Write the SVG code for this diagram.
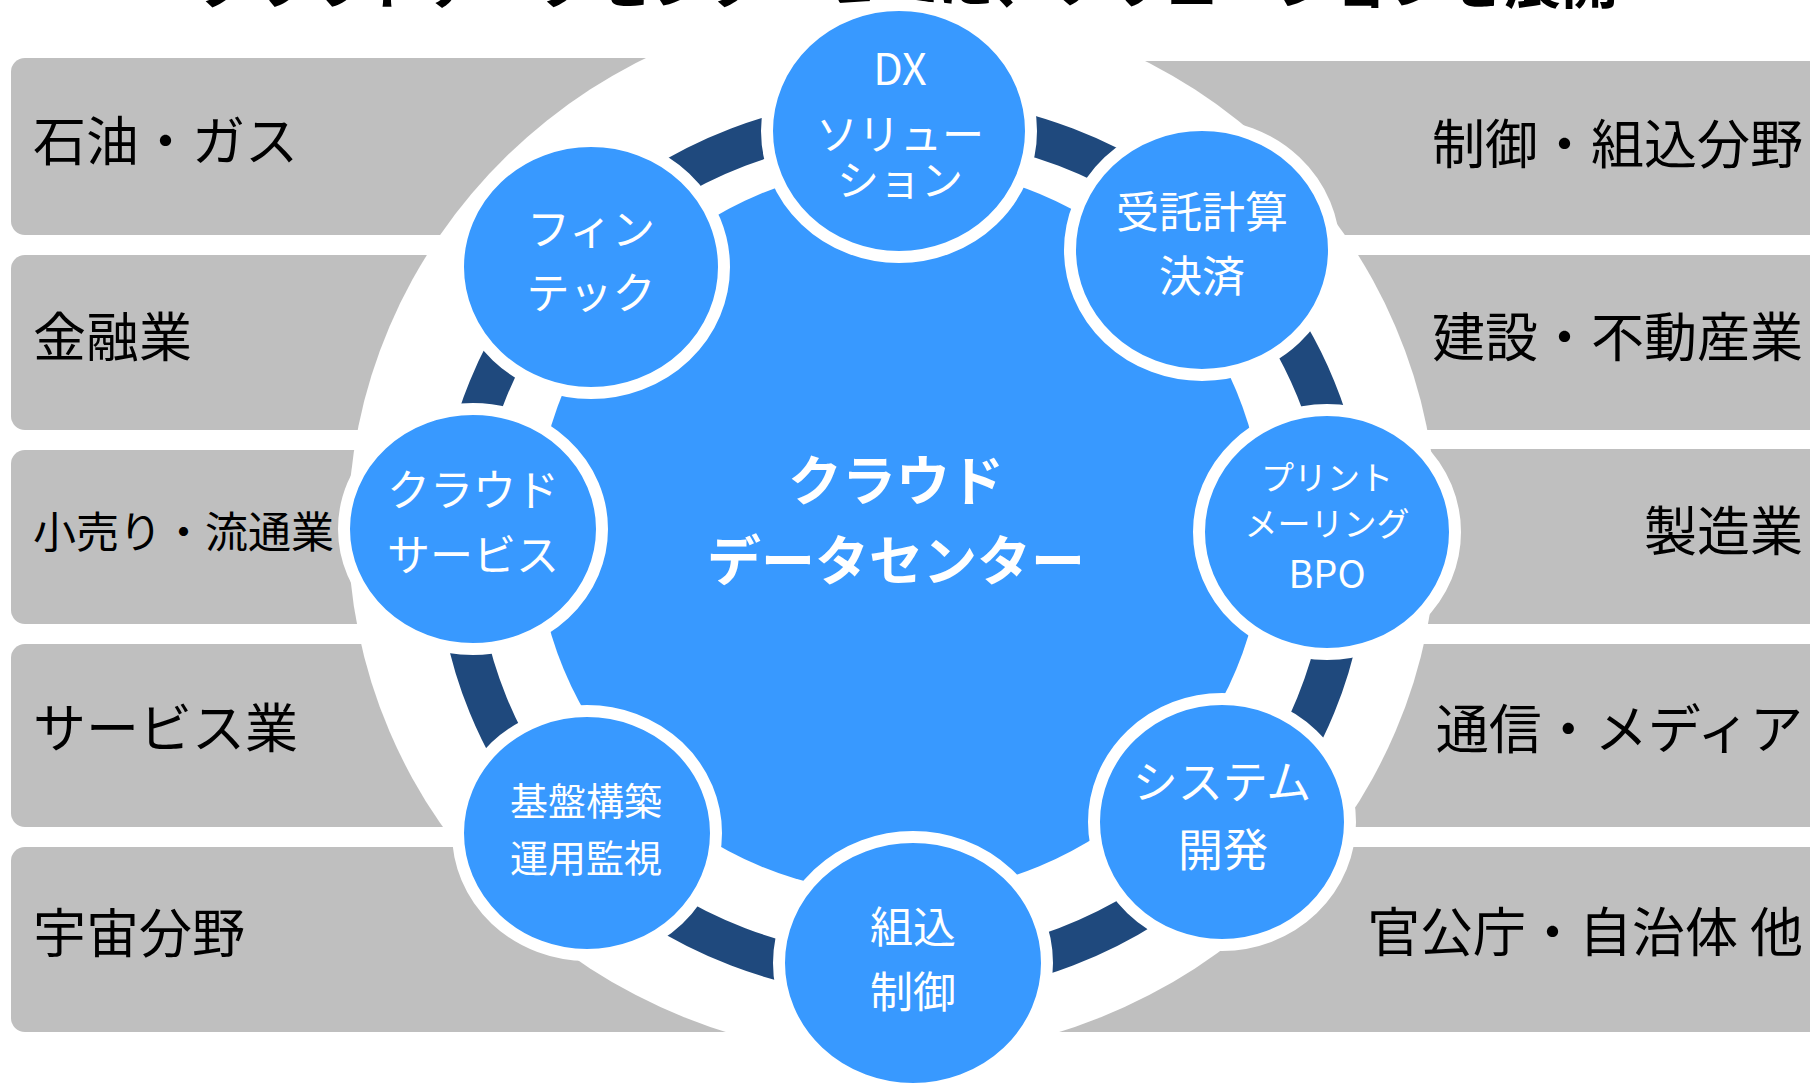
<svg xmlns="http://www.w3.org/2000/svg" width="1810" height="1087" viewBox="0 0 1810 1087">
<style>
.box{fill:#BFBFBF}
.lbl{font-family:"Noto Sans CJK JP","Noto Sans",sans-serif;fill:#000;font-size:53px}
.lbl.sm{font-size:43px}
.lr{text-anchor:end}
.node{fill:#3899FF;stroke:#FFFFFF;stroke-width:12}
.nt{font-family:"Noto Sans CJK JP","Noto Sans",sans-serif;fill:#FFFFFF;text-anchor:middle}
</style>
<rect width="1810" height="1087" fill="#FFFFFF"/>
<g id="title">
<text x="196" y="3" font-family="'Noto Sans CJK JP','Noto Sans',sans-serif" font-size="57" font-weight="bold" fill="#000">クラウドデータセンターを軸に、ソリューションを展開</text>
</g>
<g id="industries-left">
<rect class="box" x="11" y="58" width="900" height="177" rx="14"/>
<rect class="box" x="11" y="255" width="900" height="175" rx="14"/>
<rect class="box" x="11" y="450" width="900" height="174" rx="14"/>
<rect class="box" x="11" y="644" width="900" height="183" rx="14"/>
<rect class="box" x="11" y="847" width="900" height="185" rx="14"/>
</g>
<g id="industries-right">
<rect class="box" x="900" y="61" width="1000" height="174" rx="14"/>
<rect class="box" x="900" y="255" width="1000" height="175" rx="14"/>
<rect class="box" x="900" y="449" width="1000" height="175" rx="14"/>
<rect class="box" x="900" y="644" width="1000" height="183" rx="14"/>
<rect class="box" x="900" y="847" width="1000" height="185" rx="14"/>
</g>
<ellipse id="backdrop" cx="892.5" cy="529" rx="544.5" ry="528.5" fill="#FFFFFF"/>
<g id="labels-left">
<text class="lbl" x="33" y="160.5">石油・ガス</text>
<text class="lbl" x="33" y="356.5">金融業</text>
<text class="lbl sm" x="33" y="548">小売り・流通業</text>
<text class="lbl" x="33" y="748">サービス業</text>
<text class="lbl" x="33" y="953">宇宙分野</text>
</g>
<g id="labels-right">
<text class="lbl lr" x="1803" y="163.5">制御・組込分野</text>
<text class="lbl lr" x="1803" y="356.5">建設・不動産業</text>
<text class="lbl lr" x="1803" y="550.5">製造業</text>
<text class="lbl lr" x="1803" y="749">通信・メディア</text>
<text class="lbl lr" x="1803" y="952">官公庁・自治体 他</text>
</g>
<g id="connectors">
<ellipse cx="902" cy="547" rx="445" ry="430" fill="none" stroke="#1F497D" stroke-width="40"/>
</g>
<g id="center">
<circle cx="900" cy="530" r="364" fill="#3899FF"/>
<text class="nt" x="896" y="501" font-size="54" font-weight="bold">クラウド</text>
<text class="nt" x="896" y="581" font-size="54" font-weight="bold">データセンター</text>
</g>
<g id="node-dx">
<ellipse class="node" cx="899" cy="131" rx="132" ry="126"/>
<text class="nt" x="900" y="85" font-size="43">DX</text>
<text class="nt" x="900" y="149.5" font-size="42">ソリュー</text>
<text class="nt" x="900" y="196" font-size="42">ション</text>
</g>
<g id="node-kessai">
<ellipse class="node" cx="1202" cy="250" rx="132" ry="125"/>
<text class="nt" x="1202" y="228" font-size="43">受託計算</text>
<text class="nt" x="1202" y="292" font-size="43">決済</text>
</g>
<g id="node-bpo">
<ellipse class="node" cx="1327" cy="532" rx="128" ry="122"/>
<text class="nt" x="1327" y="489.5" font-size="33">プリント</text>
<text class="nt" x="1327" y="535.5" font-size="33">メーリング</text>
<text class="nt" x="1327" y="588" font-size="38">BPO</text>
</g>
<g id="node-system">
<ellipse class="node" cx="1222" cy="822" rx="128" ry="123"/>
<text class="nt" x="1222" y="799" font-size="45">システム</text>
<text class="nt" x="1223" y="867" font-size="45">開発</text>
</g>
<g id="node-embedded">
<ellipse class="node" cx="913" cy="963" rx="134" ry="126"/>
<text class="nt" x="913" y="943" font-size="43">組込</text>
<text class="nt" x="913" y="1007.5" font-size="43">制御</text>
</g>
<g id="node-infra">
<ellipse class="node" cx="587" cy="833" rx="129" ry="122"/>
<text class="nt" x="586" y="814.5" font-size="38">基盤構築</text>
<text class="nt" x="586" y="871.5" font-size="38">運用監視</text>
</g>
<g id="node-cloud">
<ellipse class="node" cx="473" cy="529" rx="129" ry="120"/>
<text class="nt" x="473" y="506" font-size="43">クラウド</text>
<text class="nt" x="473" y="571" font-size="43">サービス</text>
</g>
<g id="node-fintech">
<ellipse class="node" cx="591" cy="267" rx="133" ry="126"/>
<text class="nt" x="591" y="245" font-size="43">フィン</text>
<text class="nt" x="591" y="309" font-size="43">テック</text>
</g>
</svg>
